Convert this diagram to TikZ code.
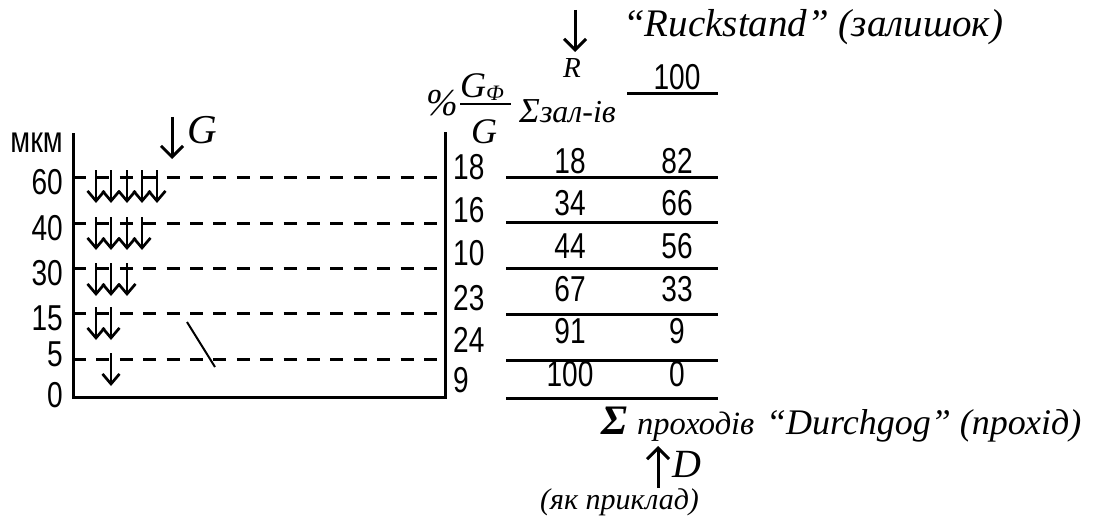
\documentclass[tikz,border=0pt]{standalone}
\usepackage{fontspec}
\setmainfont{Liberation Serif}
\newfontfamily\nar[FakeStretch=0.78]{Liberation Sans}
\usetikzlibrary{arrows.meta}
\begin{document}
\begin{tikzpicture}[x=1pt,y=-1pt,
  num/.style={font=\nar\fontsize{36}{36}\selectfont, inner sep=0pt},
  ser/.style={font=\itshape\fontsize{36}{36}\selectfont, inner sep=0pt},
  axisline/.style={line width=3pt},
  bigarrow/.style={line width=3pt, -{Straight Barb[length=11pt,width=22pt]}},
  smallarrow/.style={line width=2.7pt, -{Straight Barb[length=10pt,width=17pt]}},
  levelline/.style={line width=3pt, dash pattern=on 13pt off 10.4pt},
]
\useasboundingbox (0,0) rectangle (1099,524);

% axes
\coordinate (tl) at (73,133);
\coordinate (bl) at (73,397);
\coordinate (br) at (445,397);
\coordinate (tr) at (445,132);
\draw[axisline] (tl) -- (bl) -- (br) -- (tr);

\node[font=\nar\fontsize{37}{37}\selectfont, inner sep=0pt, anchor=base east] (mkm) at (63,152) {мкм};

% levels
\foreach \y/\ly/\lab in {177/182.5/60, 223/228/40, 268/273/30, 313/318/15, 359/354/5}{
  \coordinate (ls\lab) at (73,\y);
  \coordinate (le\lab) at (437,\y);
  \draw[levelline] (ls\lab) -- (le\lab);
  \node[num, anchor=east] (lab\lab) at (63,\ly) {\lab};
}
\node[num, anchor=east] (lab0) at (63,395) {0};

% small arrows
\foreach \y/\xs in {170/{96,111,127,142,157}, 217/{96,111,127,142}, 263/{96,111,127}, 307/{96,111}, 353/{111}}{
  \foreach \x in \xs {
    \coordinate (sa\x-\y) at (\x,\y);
    \coordinate (sb\x-\y) at (\x,\y+33);
    \draw[smallarrow] (sa\x-\y) -- (sb\x-\y);
  }
}

% diagonal mark
\coordinate (d1) at (187,322);
\coordinate (d2) at (215,367);
\draw[line width=2pt] (d1) -- (d2);

% G arrow
\coordinate (ga) at (172,117);
\coordinate (gb) at (172,159);
\draw[bigarrow] (ga) -- (gb);
\node[font=\itshape\fontsize{41}{41}\selectfont, inner sep=0pt, anchor=base west] (G) at (187,143) {G};

% right column percentages
\foreach \v/\y [count=\i] in {18/167, 16/210, 10/253, 23/298, 24/340, 9/380}{
  \node[num, anchor=west] (p\i) at (453,\y) {\v};
}

% header: % G_Phi / G
\node[font=\itshape\fontsize{38}{38}\selectfont, inner sep=0pt] (pct) at (442,103) {\%};
\node[font=\itshape\fontsize{36}{36}\selectfont, inner sep=0pt, anchor=base west] (gphi) at (460,98) {G\raisebox{-3pt}{\fontsize{22}{22}\selectfont Ф}};
\coordinate (fl) at (460,104);
\coordinate (fr) at (511,104);
\draw[line width=2pt] (fl) -- (fr);
\node[font=\itshape\fontsize{36}{36}\selectfont, inner sep=0pt, anchor=base west] (gden) at (471,143) {G};

\node[inner sep=0pt, anchor=base west] (sumr) at (519,123) {\itshape\fontsize{35}{35}\selectfont Σ\fontsize{32}{32}\selectfont зал-ів};

% R arrow
\coordinate (ra) at (575,10);
\coordinate (rb) at (575,52);
\draw[bigarrow] (ra) -- (rb);
\node[font=\itshape\fontsize{29}{29}\selectfont, inner sep=0pt, anchor=base] (R) at (572,78) {R};
\node[font=\itshape\fontsize{39}{39}\selectfont, inner sep=0pt, anchor=base west] (ruck) at (623,37) {“Ruckstand” (залишок)};

% table
\coordinate (t0l) at (627,94);
\coordinate (t0r) at (718,94);
\draw[axisline] (t0l) -- (t0r);
\node[num] (top100) at (677,77) {100};
\foreach \y [count=\i] in {177,222,268,314,360,398}{
  \coordinate (tl\i) at (506,\y);
  \coordinate (tr\i) at (718,\y);
  \draw[axisline] (tl\i) -- (tr\i);
}
\foreach \a/\b/\y [count=\i] in {18/82/161.5, 34/66/203.5, 44/56/246, 67/33/289, 91/9/331, 100/0/374}{
  \node[num] (c1-\i) at (570,\y) {\a};
  \node[num] (c2-\i) at (677,\y) {\b};
}

% bottom labels
\node[font=\bfseries\itshape\fontsize{42}{42}\selectfont, inner sep=0pt, anchor=base west] (sumd) at (601,434) {Σ};
\node[font=\itshape\fontsize{32.5}{32.5}\selectfont, inner sep=0pt, anchor=base west] (prox) at (637,434) {проходів};
\node[ser, anchor=base west] (durch) at (766,434) {“Durchgog” (прохід)};

\coordinate (da) at (658,488);
\coordinate (db) at (658,446);
\draw[bigarrow] (da) -- (db);
\node[font=\itshape\fontsize{40}{40}\selectfont, inner sep=0pt, anchor=base west] (D) at (672,477) {D};
\node[font=\itshape\fontsize{30}{30}\selectfont, inner sep=0pt, anchor=base west] (ex) at (540,509) {(як приклад)};
\end{tikzpicture}
\end{document}
